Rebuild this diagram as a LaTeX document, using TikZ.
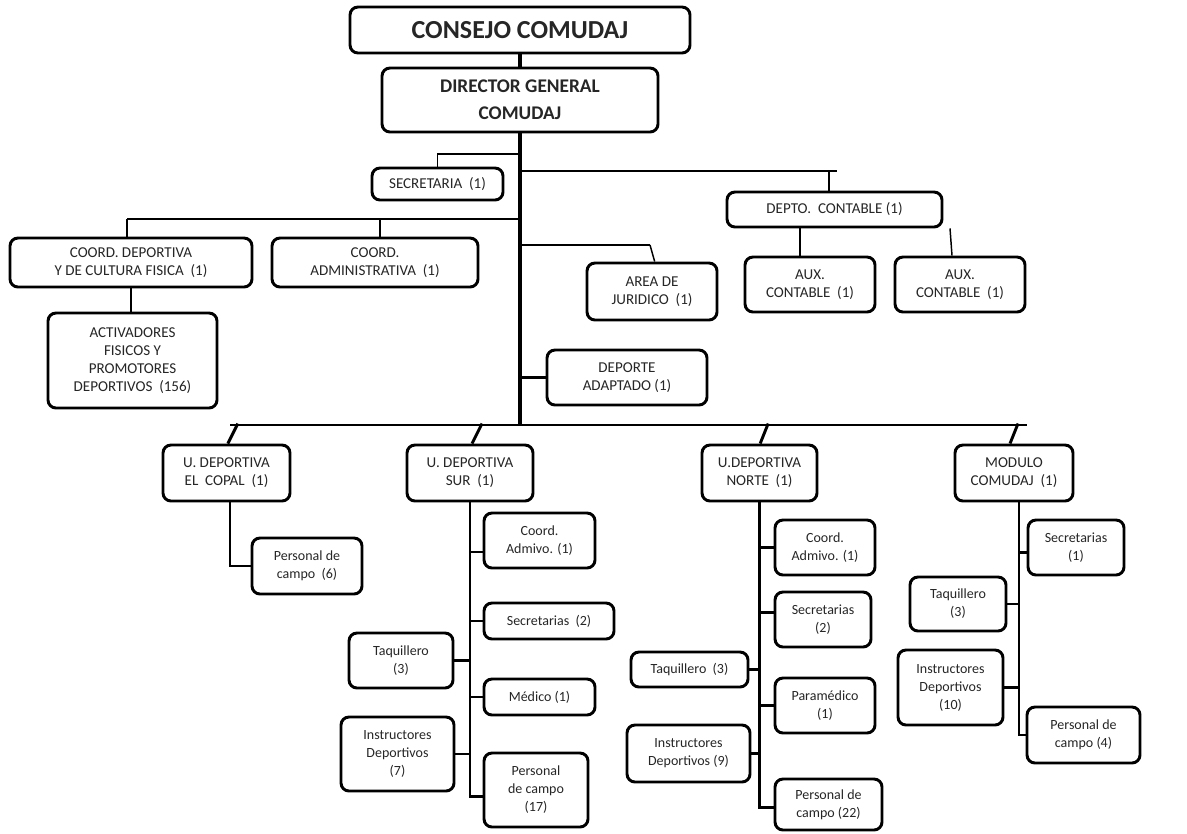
\documentclass[tikz,border=0pt]{standalone}
\usepackage{fontspec}
\setmainfont{Carlito}
\newcommand\bx[7][]{\node[box,#1,minimum width={(#4-#2)*0.75pt},minimum height={(#5-#3)*0.75pt}] (#7) at ({(#2+#4)/2},{(#3+#5)/2}) {#6};}
\tikzset{
  box/.style={draw, line width=2.2pt, rounded corners=6pt, align=center, inner sep=1pt, fill=white,
     font=\fontsize{10.5}{13.5}\selectfont, text=black!85},
  caps/.style={font=\fontsize{11.3}{13.5}\selectfont},
  trunk/.style={line width=3.2pt},
  barline/.style={line width=2.2pt},
  thinl/.style={line width=1.1pt},
}
\begin{document}
\begin{tikzpicture}[x=0.75pt,y=-0.75pt]
\useasboundingbox (0,0) rectangle (1187,833);
% top
\bx[font=\fontsize{19.5}{22}\selectfont\bfseries]{350}{7}{690}{53}{CONSEJO COMUDAJ}{con}
\bx[font=\fontsize{14.5}{20.5}\selectfont\bfseries]{382}{68}{658}{132}{DIRECTOR GENERAL\\COMUDAJ}{dir}
\bx[caps]{372}{168}{503}{200}{SECRETARIA~ (1)}{sec}
\bx[caps]{727}{192}{942}{227}{DEPTO.~ CONTABLE (1)}{depto}
\bx[caps]{745}{257}{875}{312}{AUX.\\CONTABLE~ (1)}{aux1}
\bx[caps]{895}{257}{1025}{312}{AUX.\\CONTABLE~ (1)}{aux2}
\bx[caps]{10}{238}{252}{287}{COORD. DEPORTIVA\\Y DE CULTURA FISICA~ (1)}{cd}
\bx[caps]{272}{238}{478}{287}{COORD.\\ADMINISTRATIVA~ (1)}{ca}
\bx[caps]{48}{313}{217}{408}{ACTIVADORES\\FISICOS Y\\PROMOTORES\\DEPORTIVOS~ (156)}{act}
\bx[caps]{587}{263}{717}{320}{AREA DE\\JURIDICO~ (1)}{aj}
\bx[caps]{547}{350}{707}{405}{DEPORTE\\ADAPTADO (1)}{da}
% units
\bx[caps]{163}{445}{290}{501}{U. DEPORTIVA\\EL~ COPAL~ (1)}{copal}
\bx[caps]{407}{445}{533}{501}{U. DEPORTIVA\\SUR~ (1)}{sur}
\bx[caps]{702}{445}{817}{501}{U.DEPORTIVA\\NORTE~ (1)}{norte}
\bx[caps]{955}{445}{1073}{501}{MODULO\\COMUDAJ~ (1)}{mod}
% copal
\bx{252}{538}{362}{594}{Personal de\\campo~ (6)}{pc6}
% sur
\bx{484}{513}{595}{568}{Coord.\\Admivo. (1)}{sca}
\bx{484}{603}{614}{639}{Secretarias~ (2)}{ssec}
\bx{349}{633}{453}{688}{Taquillero\\(3)}{staq}
\bx{484}{679}{595}{715}{Médico (1)}{smed}
\bx{341}{717}{454}{791}{Instructores\\Deportivos\\(7)}{sins}
\bx{484}{753}{588}{827}{Personal\\de campo\\(17)}{spc}
% norte
\bx{775}{520}{875}{575}{Coord.\\Admivo. (1)}{nca}
\bx{775}{592}{871}{647}{Secretarias\\(2)}{nsec}
\bx{631}{652}{748}{687}{Taquillero~ (3)}{ntaq}
\bx{775}{678}{875}{733}{Paramédico\\(1)}{npar}
\bx{627}{725}{750}{782}{Instructores\\Deportivos (9)}{nins}
\bx{775}{779}{882}{830}{Personal de\\campo (22)}{npc}
% modulo
\bx{1028}{520}{1124}{575}{Secretarias\\(1)}{msec}
\bx{910}{577}{1006}{631}{Taquillero\\(3)}{mtaq}
\bx{898}{650}{1003}{725}{Instructores\\Deportivos\\(10)}{mins}
\bx{1027}{707}{1140}{763}{Personal de\\campo (4)}{mpc}

% junction coordinates
\coordinate (js) at (520,154);
\coordinate (jd) at (520,171);
\coordinate (jde) at (837,171);
\coordinate (tL) at (127,219);
\coordinate (tR) at (520,219);
\coordinate (jj) at (520,245);
\coordinate (jje) at (650,245);
\coordinate (bL) at (230,425);
\coordinate (bR) at (1027,425);

% main connectors
\draw[trunk] (con.south) -- (dir.north);
\draw[trunk] (dir.south) -- (dir.south |- bL);
\draw[thinl] (sec.north) |- (js);
\draw[barline] (jd) -- (jde);
\draw[thinl] ([xshift=-4pt]depto.north) -- ([xshift=-4pt]depto.north |- jd);
\draw[thinl] ([xshift=-7.5pt]aux1.north) -- ([xshift=-7.5pt]aux1.north |- depto.south);
\draw[thinl] ([xshift=-6pt]aux2.north) -- ([xshift=-7.5pt]aux2.north |- depto.south);
\draw[barline] (tL) -- (tR);
\draw[thinl] (tL) -- (tL |- cd.north);
\draw[thinl] ([xshift=3.75pt]ca.north) -- ([xshift=3.75pt]ca.north |- tL);
\draw[thinl] (cd.south) -- (cd.south |- act.north);
\draw[barline] (jj) -- (jje);
\draw[thinl] (jje) -- ([xshift=2pt]aj.north);
\draw[barline] (da.west) -- (da.west -| dir.south);
% bottom bar
\draw[barline] (bL) -- (bR);
\draw[barline] ([xshift=1pt]copal.north) -- +(7.5pt,15pt);
\draw[barline] ([xshift=1.5pt]sur.north) -- +(7.5pt,15pt);
\draw[barline] ([xshift=0.5pt]norte.north) -- +(6pt,15pt);
\draw[barline] ([xshift=-3pt]mod.north) -- +(6pt,15pt);
% copal
\draw[barline] ([xshift=2.6pt]copal.south) |- (pc6.west);
% sur
\draw[barline] (sur.south) |- ([yshift=-5pt]spc.west);
\draw[barline] ([yshift=-8.6pt]sca.west) -- ([yshift=-8.6pt]sca.west -| sur.south);
\draw[barline] (ssec.west) -- (ssec.west -| sur.south);
\draw[barline] (staq.east) -- (staq.east -| sur.south);
\draw[barline] (smed.west) -- (smed.west -| sur.south);
\draw[barline] (sins.east) -- (sins.east -| sur.south);
% norte
\draw[barline] (norte.south) |- ([yshift=-2pt]npc.west);
\draw[barline] (nca.west) -- (nca.west -| norte.south);
\draw[barline] ([yshift=5pt]nsec.west) -- ([yshift=5pt]nsec.west -| norte.south);
\draw[barline] (ntaq.east) -- (ntaq.east -| norte.south);
\draw[barline] (npar.west) -- (npar.west -| norte.south);
\draw[barline] (nins.east) -- (nins.east -| norte.south);
% modulo
\draw[barline] ([xshift=3.75pt]mod.south) |- (mpc.west);
\draw[barline] ([yshift=-4pt]msec.west) -- ([yshift=-4pt,xshift=3.75pt]msec.west -| mod.south);
\draw[barline] (mtaq.east) -- ([xshift=3.75pt]mtaq.east -| mod.south);
\draw[barline] (mins.east) -- ([xshift=3.75pt]mins.east -| mod.south);
\end{tikzpicture}
\end{document}
